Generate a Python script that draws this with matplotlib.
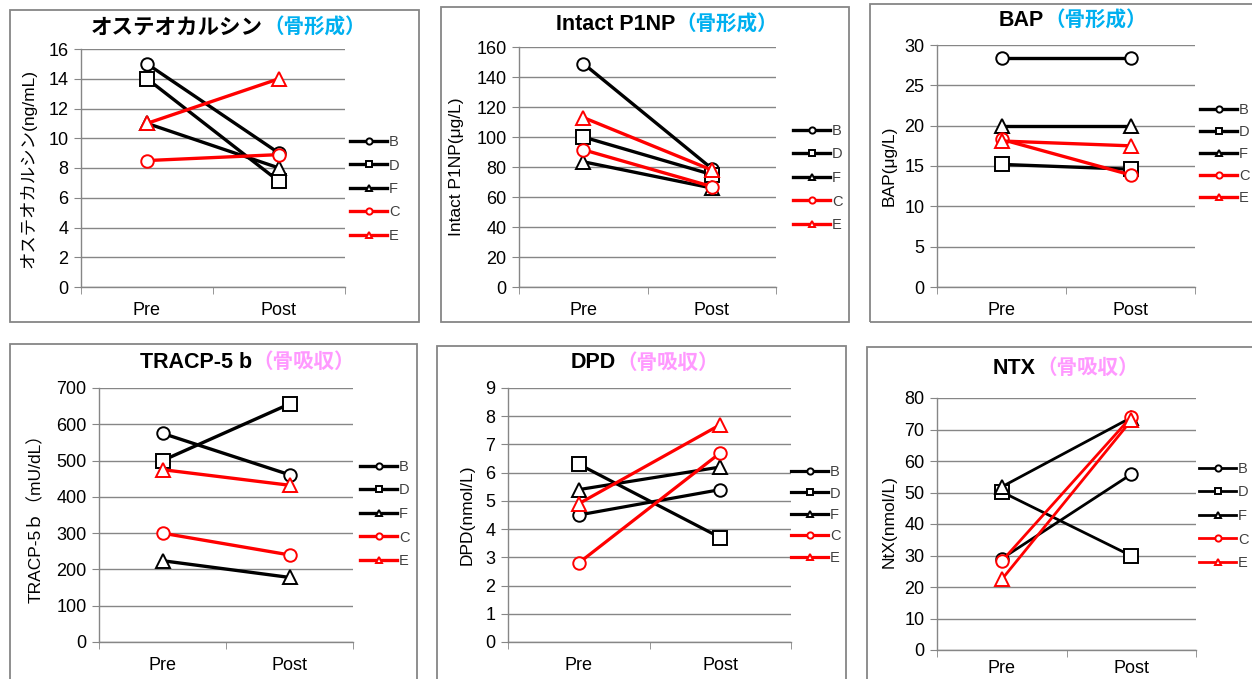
import matplotlib
matplotlib.use('Agg')
import matplotlib.pyplot as plt
from matplotlib.patches import Rectangle

plt.rcParams['font.family'] = ['Liberation Sans', 'Noto Sans CJK JP']

W, H = 1252, 679

categories = ['Pre', 'Post']
subjects = ['B', 'D', 'F', 'C', 'E']
subject_colors = ['black', 'black', 'black', '#FF0000', '#FF0000']
subject_markers = ['o', 's', '^', 'o', '^']

# values in subject order B, D, F, C, E
oc_pre = [15.0, 14.0, 11.0, 8.5, 11.0]
oc_post = [9.0, 7.1, 8.0, 8.9, 14.0]
p1np_pre = [149, 100, 83.5, 91.5, 113]
p1np_post = [79, 75, 66, 67, 78]
bap_pre = [28.4, 15.2, 20.0, 18.3, 18.1]
bap_post = [28.4, 14.6, 20.0, 13.9, 17.5]
tracp_pre = [575, 500, 224, 300, 475]
tracp_post = [461, 656, 178, 240, 432]
dpd_pre = [4.5, 6.3, 5.4, 2.8, 4.9]
dpd_post = [5.4, 3.7, 6.2, 6.7, 7.7]
ntx_pre = [29.0, 50.2, 51.8, 28.2, 22.4]
ntx_post = [55.8, 29.9, 73.8, 74.0, 72.9]

BLUE = '#00B0F0'
PINK = '#FF99FF'
GRAY = '#868686'

# (name, colored suffix, suffix color, ylabel, pre, post, ymax, ystep)
panels = [
    ('オステオカルシン', '（骨形成）', BLUE, 'オステオカルシン(ng/mL)', oc_pre, oc_post, 16, 2),
    ('Intact P1NP', '（骨形成）', BLUE, 'Intact P1NP(μg/L)', p1np_pre, p1np_post, 160, 20),
    ('BAP', '（骨形成）', BLUE, 'BAP(μg/L)', bap_pre, bap_post, 30, 5),
    ('TRACP-5 b', '（骨吸収）', PINK, 'TRACP-5ｂ（mU/dL）', tracp_pre, tracp_post, 700, 100),
    ('DPD', '（骨吸収）', PINK, 'DPD(nmol/L)', dpd_pre, dpd_post, 9, 1),
    ('NTX', '（骨吸収）', PINK, 'NtX(nmol/L)', ntx_pre, ntx_post, 80, 10),
]

# layout in pixels
frames = [(10, 10, 419, 322), (441, 7, 849, 322), (870, 4, 1262, 322),
          (10, 344, 417, 692), (437, 346, 846, 692), (867, 347, 1262, 692)]
plot_areas = [(81, 49, 345, 287), (519, 47, 776, 287), (937, 45, 1195, 287),
              (99, 388, 353, 642), (508, 388, 791, 642), (937, 398, 1196, 650)]
title_pos = [(263, 28), (675, 25), (1044, 21), (252, 362), (616, 363), (1036, 368)]
ylabel_pos = [(28, 168), (457, 167), (889, 166), (36, 514), (467, 515), (889, 522)]
legend_pos = [(350, 189, 27), (793, 178, 27), (1200, 154, 25.5),
              (360, 514, 27), (791, 515, 25), (1199, 516, 27)]
line_widths = [2.4, 2.4, 2.4, 2.4, 2.3, 2.0]
xlabel_pads = [11, 11, 11, 11, 11, 7]


def fx(x):
    return x / W


def fy(y):
    return 1 - y / H


fig = plt.figure(figsize=(W / 100, H / 100), dpi=100)

for i, (name, suffix, scol, ylab, pre, post, ymax, ystep) in enumerate(panels):
    l, t, r, b = frames[i]
    fig.patches.append(Rectangle((fx(l), fy(b)), fx(r - l), (b - t) / H,
                                 transform=fig.transFigure, fill=False,
                                 edgecolor=GRAY, linewidth=1.3))

    l, t, r, b = plot_areas[i]
    ax = fig.add_axes([fx(l), fy(b), fx(r - l), (b - t) / H])
    ax.patch.set_alpha(0)

    handles = []
    for j, subj in enumerate(subjects):
        ln, = ax.plot([0, 1], [pre[j], post[j]], color=subject_colors[j],
                      marker=subject_markers[j], markersize=9.5 if subject_markers[j] != 'o' else 9,
                      markerfacecolor='white', markeredgecolor=subject_colors[j],
                      markeredgewidth=1.4, linewidth=line_widths[i], clip_on=False,
                      zorder=3 + j)
        handles.append(ln)

    ax.set_xlim(-0.5, 1.5)
    ax.set_ylim(0, ymax)
    ax.set_yticks(range(0, ymax + 1, ystep))
    ax.set_xticks([0, 1])
    ax.set_xticklabels(categories)
    ax.set_xticks([-0.5, 0.5, 1.5], minor=True)
    ax.tick_params(axis='x', which='major', length=0, pad=xlabel_pads[i], labelsize=13)
    ax.tick_params(axis='x', which='minor', length=5, color=GRAY, direction='out')
    ax.tick_params(axis='y', length=5, color=GRAY, direction='out', pad=4, labelsize=13)
    for side in ('top', 'right'):
        ax.spines[side].set_visible(False)
    for side in ('left', 'bottom'):
        ax.spines[side].set_color(GRAY)
        ax.spines[side].set_linewidth(1.0)
    ax.yaxis.grid(True, color=GRAY, linewidth=1.0)
    ax.set_axisbelow(True)

    tx, ty = title_pos[i]
    fig.text(fx(tx), fy(ty), name, ha='right', va='center', fontsize=15.5,
             fontweight='bold', color='black')
    fig.text(fx(tx), fy(ty), suffix, ha='left', va='center', fontsize=14.8,
             fontweight='bold', color=scol)

    yx, yy = ylabel_pos[i]
    fig.text(fx(yx), fy(yy), ylab, rotation=90, ha='center', va='center',
             fontsize=12.5, color='black')

    lx, ly, spacing = legend_pos[i]
    fs = 10.5
    fs_px = fs * 100 / 72
    leg = ax.legend(handles, subjects, loc='center left',
                    bbox_to_anchor=(fx(lx), fy(ly)), bbox_transform=fig.transFigure,
                    frameon=False, fontsize=fs, handlelength=37 / fs_px,
                    handletextpad=0.15, labelspacing=(spacing - fs_px * 1.2) / fs_px,
                    borderpad=0, borderaxespad=0, markerscale=0.5, numpoints=1)
    for txt in leg.get_texts():
        txt.set_color('#404040')

fig.savefig('out.png', dpi=100)
